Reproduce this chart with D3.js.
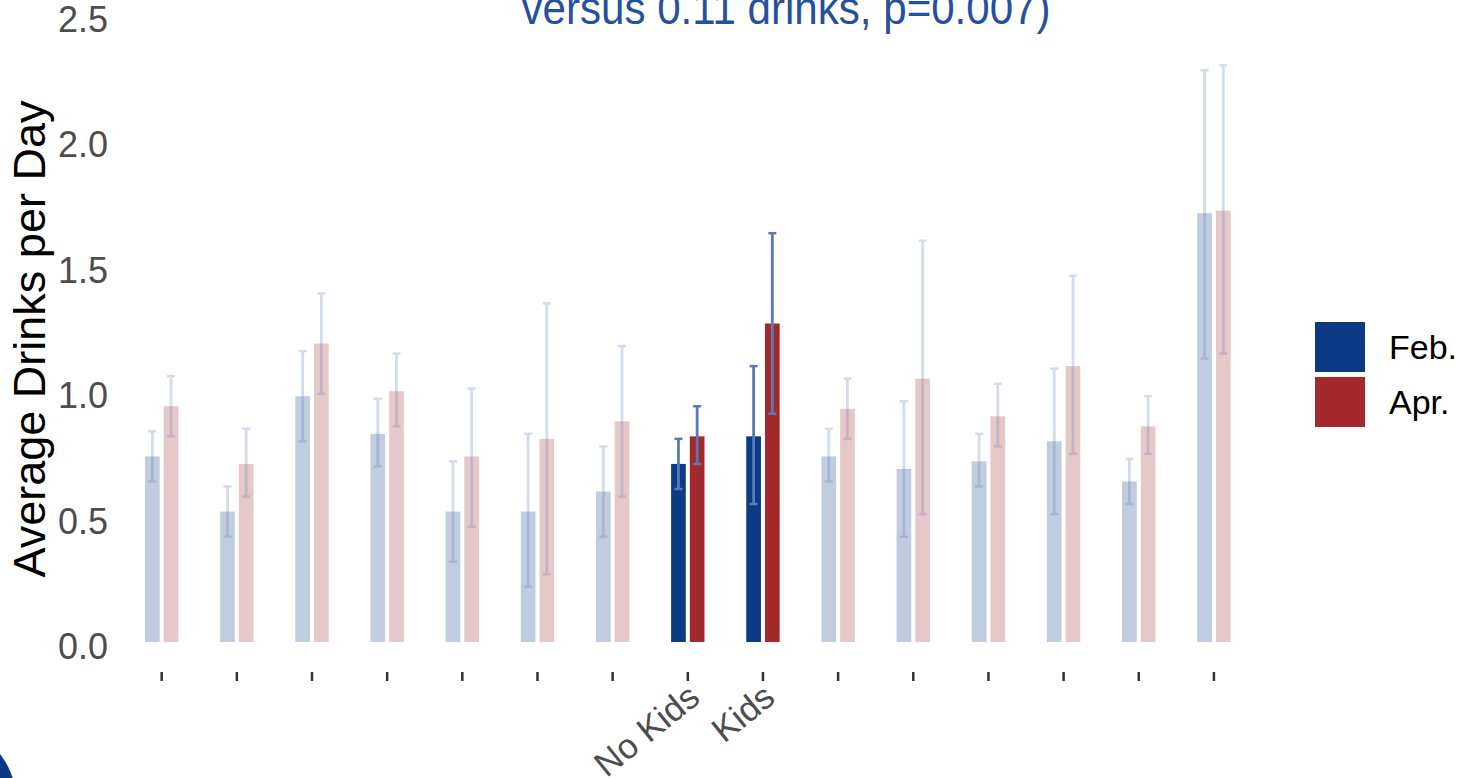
<!DOCTYPE html>
<html>
<head>
<meta charset="utf-8">
<script src="https://cdn.jsdelivr.net/npm/d3@7"></script>
<style>
  html, body { margin: 0; padding: 0; background: #ffffff; }
  svg { display: block; font-family: "Liberation Sans", Arial, sans-serif; }
</style>
</head>
<body>
<svg id="chart" width="1460" height="778"></svg>
<script>
// ---- data ----
const categories = ["", "", "", "", "", "", "", "No Kids", "Kids", "", "", "", "", "", ""];
const highlighted = [false, false, false, false, false, false, false, true, true, false, false, false, false, false, false];
const seriesNames = ["Feb.", "Apr."];
const febValues = [0.74, 0.52, 0.98, 0.83, 0.52, 0.52, 0.60, 0.71, 0.82, 0.74, 0.69, 0.72, 0.80, 0.64, 1.71];
const febLow    = [0.64, 0.42, 0.80, 0.70, 0.32, 0.22, 0.42, 0.61, 0.55, 0.64, 0.42, 0.62, 0.51, 0.55, 1.13];
const febHigh   = [0.84, 0.62, 1.16, 0.97, 0.72, 0.83, 0.78, 0.81, 1.10, 0.85, 0.96, 0.83, 1.09, 0.73, 2.28];
const aprValues = [0.94, 0.71, 1.19, 1.00, 0.74, 0.81, 0.88, 0.82, 1.27, 0.93, 1.05, 0.90, 1.10, 0.86, 1.72];
const aprLow    = [0.82, 0.58, 0.99, 0.86, 0.46, 0.27, 0.58, 0.71, 0.91, 0.81, 0.51, 0.78, 0.75, 0.75, 1.15];
const aprHigh   = [1.06, 0.85, 1.39, 1.15, 1.01, 1.35, 1.18, 0.94, 1.63, 1.05, 1.60, 1.03, 1.46, 0.98, 2.30];
const yTicks = [0, 0.5, 1.0, 1.5, 2.0, 2.5];
const titleText = "versus 0.11 drinks, p=0.007)";
const yTitle = "Average Drinks per Day";

// ---- styles ----
const colors = { "Feb.": "#0c3a84", "Apr.": "#a3292d" };
const errColor = "#5a7ab6";
const fadeOpacity = 0.26;

const svg = d3.select("#chart");

// build table
const rows = [];
categories.forEach((c, i) => {
  rows.push({ idx: i, series: "Feb.", value: febValues[i], low: febLow[i], high: febHigh[i], hl: highlighted[i] });
  rows.push({ idx: i, series: "Apr.", value: aprValues[i], low: aprLow[i], high: aprHigh[i], hl: highlighted[i] });
});

const x = d3.scaleBand().domain(d3.range(categories.length)).range([124.1, 1251.5]).padding(0);
const groupWidth = 33.4;
const xs = d3.scaleBand().domain(seriesNames).range([0, groupWidth]).paddingInner(0.214);
const y = d3.scaleLinear().domain([0, 2.5]).range([642, 15]);

const barX = d => x(d.idx) + x.bandwidth() / 2 - groupWidth / 2 + xs(d.series);

// bars
svg.append("g").selectAll("rect").data(rows).join("rect")
  .attr("x", barX)
  .attr("y", d => y(d.value))
  .attr("width", xs.bandwidth())
  .attr("height", d => y(0) - y(d.value))
  .attr("fill", d => colors[d.series])
  .attr("fill-opacity", d => d.hl ? 1 : fadeOpacity);

// error bars
const eg = svg.append("g").selectAll("g").data(rows).join("g")
  .attr("opacity", d => d.hl ? 1 : fadeOpacity)
  .attr("stroke", errColor);
const cx = d => barX(d) + xs.bandwidth() / 2;
eg.append("line")
  .attr("x1", cx).attr("x2", cx)
  .attr("y1", d => y(d.low)).attr("y2", d => y(d.high))
  .attr("stroke-width", 2.8);
eg.append("line")
  .attr("x1", d => cx(d) - 4).attr("x2", d => cx(d) + 4)
  .attr("y1", d => y(d.high)).attr("y2", d => y(d.high))
  .attr("stroke-width", 2.5);
eg.append("line")
  .attr("x1", d => cx(d) - 4).attr("x2", d => cx(d) + 4)
  .attr("y1", d => y(d.low)).attr("y2", d => y(d.low))
  .attr("stroke-width", 2.5);

// x axis
const xAxis = d3.axisBottom(x).tickSize(9).tickSizeOuter(0).tickFormat(i => categories[i]);
const gx = svg.append("g").attr("transform", "translate(0,672)").call(xAxis);
gx.select(".domain").remove();
gx.selectAll(".tick line").attr("stroke", "#333333").attr("stroke-width", 2.5).attr("y1", 0).attr("y2", 9);
gx.selectAll(".tick text")
  .attr("fill", "#4d4d4d")
  .attr("font-size", 35)
  .attr("text-anchor", "end")
  .attr("dy", null)
  .attr("y", null)
  .attr("transform", "translate(14,29) rotate(-39)");

// y axis
const yAxis = d3.axisLeft(y).tickValues(yTicks).tickSize(0).tickPadding(0).tickFormat(d3.format(".1f"));
const gy = svg.append("g").attr("transform", "translate(108,0)").call(yAxis);
gy.select(".domain").remove();
gy.selectAll(".tick text")
  .attr("fill", "#4d4d4d")
  .attr("font-size", 36)
  .attr("x", 0)
  .attr("dy", "0.32em")
  .attr("transform", "translate(0,5)");

// y title
svg.append("text")
  .attr("transform", "translate(45,339) rotate(-90)")
  .attr("text-anchor", "middle")
  .attr("font-size", 45)
  .attr("fill", "#000000")
  .text(yTitle);

// title (partially cut at top, as in the reference)
svg.append("text")
  .attr("transform", "translate(786,24) scale(0.915,1)")
  .attr("text-anchor", "middle")
  .attr("font-size", 46)
  .attr("fill", "#24509d")
  .text(titleText);

// legend
const lg = svg.append("g").attr("transform", "translate(1315,322)");
seriesNames.forEach((s, i) => {
  lg.append("rect").attr("x", 0).attr("y", i * 55).attr("width", 50).attr("height", 50).attr("fill", colors[s]);
  lg.append("text").attr("x", 74).attr("y", i * 55 + 25).attr("dy", "0.36em")
    .attr("font-size", 34).attr("fill", "#000000").text(s);
});

// decorative corner shape
svg.append("circle").attr("cx", -58).attr("cy", 800).attr("r", 74).attr("fill", "#0b3a82");
</script>
</body>
</html>
